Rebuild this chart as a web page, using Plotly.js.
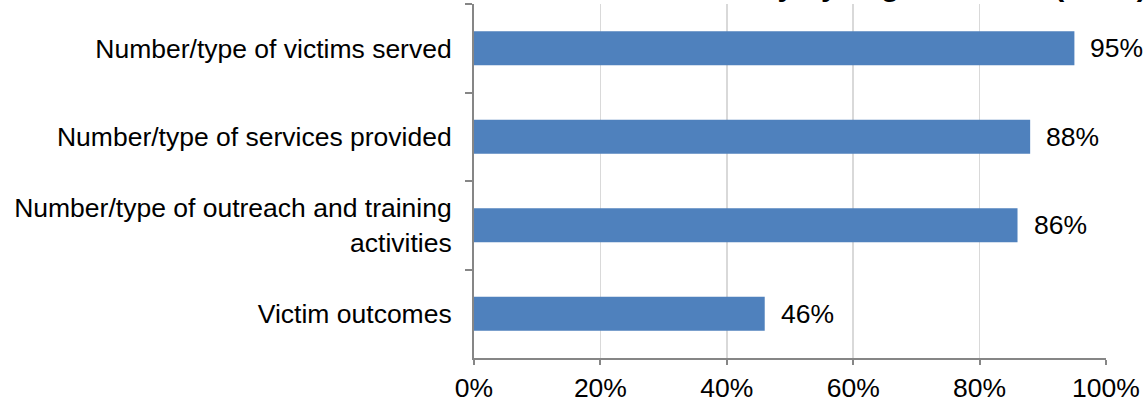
<!DOCTYPE html>
<html>
<head>
<meta charset="utf-8">
<script src="https://cdn.plot.ly/plotly-3.0.1.min.js"></script>
<style>
  html, body { margin: 0; padding: 0; background: #ffffff; }
  #chart { width: 1146px; height: 402px; }
</style>
</head>
<body>
<div id="chart"></div>
<script>
// Data
const categories = [
  "Number/type of victims served",
  "Number/type of services provided",
  "Number/type of outreach and training<br>activities",
  "Victim outcomes"
];
const values = [95, 88, 86, 46];
const valueLabels = ["95%", "88%", "86%", "46%"];
const xTickValues = [0, 20, 40, 60, 80, 100];
const xTickLabels = ["0%", "20%", "40%", "60%", "80%", "100%"];
const titleText = "Data Collected Annually by Organizations (N=57)";

const FONT = "Arial, 'Liberation Sans', Helvetica, sans-serif";

const trace = {
  type: "bar",
  orientation: "h",
  x: values,
  y: categories,
  marker: { color: "#4f81bd", line: { width: 0 } },
  hoverinfo: "none"
};

const annotations = categories.map((c, i) => ({
  x: values[i],
  y: c,
  xref: "x",
  yref: "y",
  text: valueLabels[i],
  showarrow: false,
  xanchor: "left",
  yanchor: "middle",
  xshift: 14,
  font: { family: FONT, size: 26.5, color: "#000000" }
}));

annotations.push({
  xref: "paper",
  yref: "paper",
  x: 1.0665,
  y: 1,
  xanchor: "right",
  yanchor: "bottom",
  yshift: 1,
  borderpad: 0,
  showarrow: false,
  text: "<b>" + titleText + "</b>",
  font: { family: FONT, size: 30, color: "#000000" }
});

const layout = {
  width: 1146,
  height: 402,
  margin: { l: 474, r: 40, t: 4, b: 44, pad: 0 },
  paper_bgcolor: "#ffffff",
  plot_bgcolor: "#ffffff",
  showlegend: false,
  bargap: 0.615,
  font: { family: FONT, size: 26.5, color: "#000000" },
  xaxis: {
    range: [0, 100],
    tickvals: xTickValues,
    ticktext: xTickLabels,
    showgrid: true,
    gridcolor: "#d9d9d9",
    gridwidth: 1.5,
    zeroline: false,
    showline: true,
    linecolor: "#868686",
    linewidth: 2,
    ticks: "outside",
    ticklen: 5,
    tickwidth: 2,
    tickcolor: "#868686",
    ticklabelstandoff: 0,
    tickfont: { family: FONT, size: 26.5, color: "#000000" },
    fixedrange: true
  },
  yaxis: {
    type: "category",
    autorange: "reversed",
    tickson: "boundaries",
    showgrid: false,
    zeroline: false,
    showline: true,
    linecolor: "#868686",
    linewidth: 2,
    ticks: "outside",
    ticklen: 7,
    tickwidth: 2,
    tickcolor: "#868686",
    ticklabelstandoff: 15,
    tickfont: { family: FONT, size: 26.5, color: "#000000" },
    fixedrange: true
  },
  annotations: annotations
};

Plotly.newPlot("chart", [trace], layout, { displayModeBar: false, staticPlot: true });
</script>
</body>
</html>
